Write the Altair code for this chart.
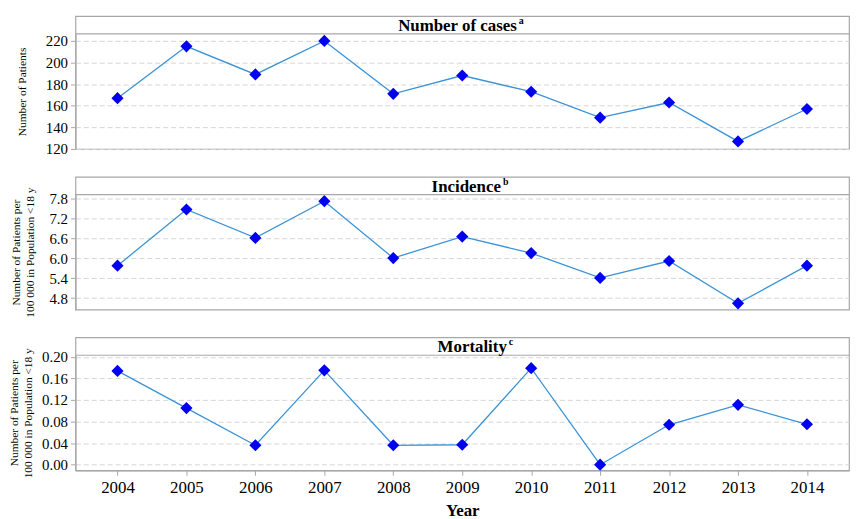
import altair as alt
import pandas as pd

years = [2004, 2005, 2006, 2007, 2008, 2009, 2010, 2011, 2012, 2013, 2014]
cases = [167, 215, 189, 220, 171, 188, 173, 149, 163, 127, 157]
incidence = [5.78, 7.48, 6.62, 7.73, 6.01, 6.66, 6.16, 5.41, 5.92, 4.64, 5.78]
mortality = [0.174, 0.105, 0.036, 0.175, 0.036, 0.037, 0.179, 0.0, 0.074, 0.111, 0.075]

panel_titles = ["Number of cases", "Incidence", "Mortality"]
panel_supers = ["a", "b", "c"]
y_titles = [
    "Number of Patients",
    ["Number of Patients per", "100 000 in Population <18 y"],
    ["Number of Patients per", "100 000 in Population <18 y"],
]
y_domains = [[120, 226.5], [4.45, 7.93], [-0.0104, 0.203]]
y_ticks = [
    [120, 140, 160, 180, 200, 220],
    [4.8, 5.4, 6.0, 6.6, 7.2, 7.8],
    [0.0, 0.04, 0.08, 0.12, 0.16, 0.20],
]
y_formats = ["d", ".1f", ".2f"]
title_pads = [18, 14, 8]
title_end = [445, 429, 435]

W = 780
HH = 18
PH = 116
FONT = "Liberation Serif"
FRAME = "#a8a8a8"


def panel(i, vals, show_x):
    df = pd.DataFrame({"Year": years, "v": vals})
    if show_x:
        xaxis = alt.Axis(values=years, format="d", title="Year", labelFontSize=17,
                         titleFontSize=17, titleFontWeight="bold", tickSize=5,
                         labelPadding=4, titlePadding=8, grid=False, labelFlush=False)
    else:
        xaxis = None
    xenc = alt.X("Year:Q", scale=alt.Scale(domain=[2003.39, 2014.61], nice=False, zero=False),
                 axis=xaxis)
    yenc = alt.Y("v:Q",
                 scale=alt.Scale(domain=y_domains[i], nice=False, zero=False, range=[HH + PH, HH]),
                 axis=alt.Axis(values=y_ticks[i], format=y_formats[i], title=y_titles[i],
                               titleFontSize=11.5, titleFontWeight="normal", labelFontSize=15,
                               titlePadding=title_pads[i], grid=True, gridDash=[5, 3],
                               gridColor="#d6d6d6", tickSize=5, labelPadding=3,
                               titleLineHeight=14, labelFlush=False))
    base = alt.Chart(df).encode(x=xenc, y=yenc)
    line = base.mark_line(color="#3b93d6", strokeWidth=1.3)
    pts = base.mark_point(shape="diamond", filled=True, size=150, color="#0000f0", opacity=1)

    hdf = pd.DataFrame({"t": [panel_titles[i]], "s": [panel_supers[i]]})
    hbase = alt.Chart(hdf)
    sep = hbase.mark_rule(color=FRAME, strokeWidth=1.2).encode(
        x=alt.value(0), x2=alt.value(W), y=alt.value(HH))
    main = hbase.mark_text(font=FONT, fontWeight="bold", fontSize=17, align="right",
                           baseline="middle", color="black").encode(
        text="t:N", x=alt.value(title_end[i]), y=alt.value(HH / 2 + 1))
    sup = hbase.mark_text(font=FONT, fontWeight="bold", fontSize=10, align="left",
                          baseline="middle", color="black").encode(
        text="s:N", x=alt.value(title_end[i] + 2), y=alt.value(HH / 2 - 4))
    return alt.layer(line, pts, sep, main, sup).properties(width=W, height=HH + PH)


chart = alt.vconcat(
    panel(0, cases, False),
    panel(1, incidence, False),
    panel(2, mortality, True),
    spacing=28,
    bounds="flush",
).properties(
    padding={"left": 0, "top": 5, "right": 0, "bottom": 0}
).configure_view(
    stroke=FRAME, strokeWidth=1.2
).configure_axis(
    labelFont=FONT, titleFont=FONT, labelColor="black", titleColor="black",
    domainColor=FRAME, tickColor=FRAME, domainWidth=1.2
)

chart.save("out.html", embed_options={"renderer": "svg", "actions": False})
